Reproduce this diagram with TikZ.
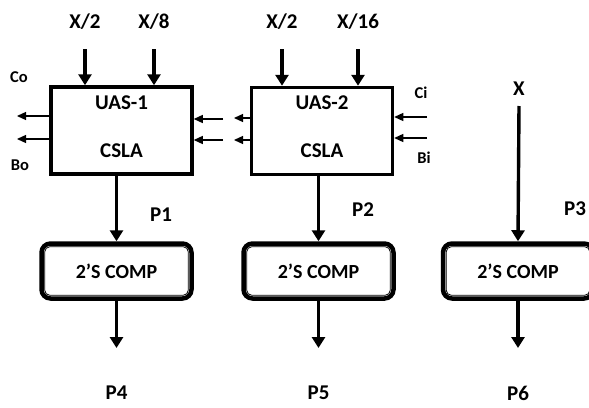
\documentclass[tikz,border=0pt]{standalone}
\usepackage{fontspec}
\setmainfont{Carlito}
\usetikzlibrary{arrows.meta,calc}
\begin{document}
\begin{tikzpicture}[x=1pt,y=-1pt,
  lbl/.style={font=\bfseries\fontsize{21}{23}\selectfont,inner sep=0pt},
  slbl/.style={font=\bfseries\fontsize{16.5}{18}\selectfont,inner sep=0pt},
  mainbox/.style={draw,line width=3.5pt,minimum width=141pt,minimum height=87pt,inner sep=0pt},
  compbox/.style={draw,line width=4.5pt,rounded corners=9pt,minimum width=150pt,minimum height=55pt,inner sep=0pt,font=\bfseries\fontsize{20}{22}\selectfont},
  bigarrow/.style={line width=3.4pt,-{Triangle[width=13pt,length=11pt]}},
  sidearrow/.style={line width=1.3pt,-{Triangle[width=8pt,length=9pt]}}]
\useasboundingbox (0,0) rectangle (589,407);
% main boxes
\node[mainbox] (b1) at (121.5,130.5) {};
\node[lbl] at (121.5,103) {UAS-1};
\node[lbl] at (121.5,151) {CSLA};
\node[mainbox] (b2) at (322,131) {};
\node[lbl] at (322,103) {UAS-2};
\node[lbl] at (322,151) {CSLA};
% comp boxes
\foreach \n/\cx in {c1/116.5,c2/318.5,c3/518}{
  \node[compbox] (\n) at (\cx,271) {2’S COMP};
  \draw[line width=0.8pt,rounded corners=5pt] ($(\n.south west)+(5.5,-5.5)$) rectangle ($(\n.north east)+(-5.5,5.5)$);
}
% top inputs
\node[lbl] (i1) at (85,22) {X/2};
\node[lbl] (i2) at (154,22) {X/8};
\node[lbl] (i3) at (282,22) {X/2};
\node[lbl] (i4) at (358,22) {X/16};
\node[lbl] (ix) at (519,89) {X};
\coordinate (t1) at (85,49);
\coordinate (t2) at (154,49);
\coordinate (t3) at (282,49);
\coordinate (t4) at (358,49);
\draw[bigarrow] (t1) -- (t1 |- b1.north);
\draw[bigarrow] (t2) -- (t2 |- b1.north);
\draw[bigarrow] (t3) -- (t3 |- b2.north);
\draw[bigarrow] (t4) -- (t4 |- b2.north);
\draw[bigarrow] (519,106) -- (c3.north);
% outputs of main boxes
\draw[bigarrow] (c1.north |- b1.south) -- (c1.north);
\draw[bigarrow] (c2.north |- b2.south) -- (c2.north);
% P labels
\node[lbl] (p1) at (161,215) {P1};
\node[lbl] (p2) at (363,210) {P2};
\node[lbl] (p3) at (575,209) {P3};
\node[lbl] (p4) at (116.5,393) {P4};
\node[lbl] (p5) at (318.5,393) {P5};
\node[lbl] (p6) at (518,393) {P6};
\coordinate (e1) at (116.5,348);
\coordinate (e2) at (318.5,348);
\coordinate (e3) at (518,348);
\draw[bigarrow] (c1.south) -- (e1);
\draw[bigarrow] (c2.south) -- (e2);
\draw[bigarrow] (c3.south) -- (e3);
% side labels
\node[slbl] (co) at (19,77) {Co};
\node[slbl] (bo) at (20,165) {Bo};
\node[slbl] (ci) at (421,93) {Ci};
\node[slbl] (bi) at (424,158) {Bi};
% side arrows
\coordinate (l1) at (17,116);
\coordinate (l2) at (17,139);
\coordinate (m1) at (223,119);
\coordinate (m2) at (223,140);
\coordinate (n1) at (234,118);
\coordinate (n2) at (234,140);
\coordinate (r1) at (427,117);
\coordinate (r2) at (427,138);
\draw[sidearrow] (b1.west |- l1) -- (l1);
\draw[sidearrow] (b1.west |- l2) -- (l2);
\draw[sidearrow] (m1) -- (b1.east |- m1);
\draw[sidearrow] (m2) -- (b1.east |- m2);
\draw[sidearrow] (b2.west |- n1) -- (n1);
\draw[sidearrow] (b2.west |- n2) -- (n2);
\draw[sidearrow] (r1) -- (b2.east |- r1);
\draw[sidearrow] (r2) -- (b2.east |- r2);
\end{tikzpicture}
\end{document}
